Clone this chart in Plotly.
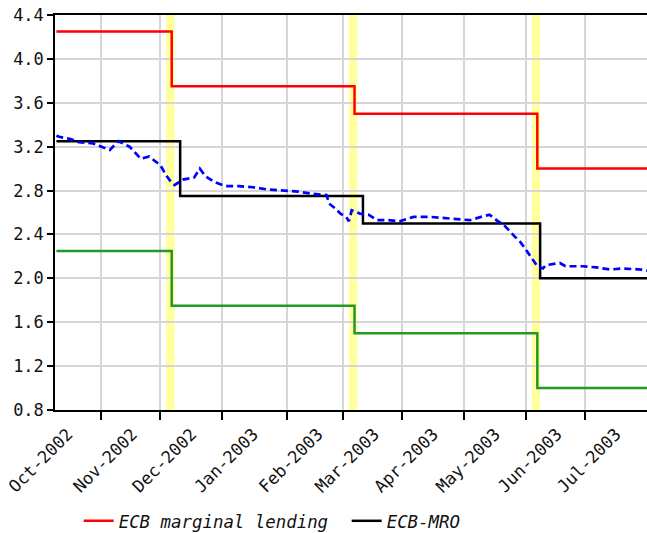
import pandas as pd
import plotly.graph_objects as go
from pandas.tseries.offsets import BDay

# ---------------- data ----------------
lending_dates = ["2002-10-10", "2002-12-06", "2003-03-07", "2003-06-06", "2003-07-31"]
lending_rate = [4.25, 3.75, 3.50, 3.00, 3.00]

deposit_dates = ["2002-10-10", "2002-12-06", "2003-03-07", "2003-06-06", "2003-07-31"]
deposit_rate = [2.25, 1.75, 1.50, 1.00, 1.00]

mro_dates = ["2002-10-10", "2002-12-11", "2003-03-12", "2003-06-09", "2003-07-31"]
mro_rate = [3.25, 2.75, 2.50, 2.00, 2.00]

market_dates = [
    "2002-10-10", "2002-10-11", "2002-10-17", "2002-10-22", "2002-10-29", "2002-11-01",
    "2002-11-06", "2002-11-11", "2002-11-15", "2002-11-21", "2002-11-26", "2002-12-02",
    "2002-12-04", "2002-12-06", "2002-12-09", "2002-12-12", "2002-12-18", "2002-12-20",
    "2002-12-24", "2002-12-27", "2003-01-02", "2003-01-09", "2003-01-16", "2003-01-23",
    "2003-01-31", "2003-02-07", "2003-02-14", "2003-02-21", "2003-02-24", "2003-02-26",
    "2003-02-28", "2003-03-04", "2003-03-05", "2003-03-06", "2003-03-11", "2003-03-14",
    "2003-03-19", "2003-03-25", "2003-03-31", "2003-04-07", "2003-04-15", "2003-04-22",
    "2003-04-29", "2003-05-05", "2003-05-09", "2003-05-14", "2003-05-19", "2003-05-21",
    "2003-05-27", "2003-05-29", "2003-06-02", "2003-06-05", "2003-06-06", "2003-06-10",
    "2003-06-11", "2003-06-18", "2003-06-20", "2003-06-30", "2003-07-07", "2003-07-14",
    "2003-07-18", "2003-07-29", "2003-07-31",
]
market_rate = [
    3.30, 3.29, 3.27, 3.24, 3.23, 3.20,
    3.17, 3.25, 3.20, 3.09, 3.11, 3.03,
    2.94, 2.87, 2.85, 2.90, 2.92, 3.00,
    2.93, 2.88, 2.84, 2.84, 2.83, 2.81,
    2.80, 2.79, 2.77, 2.76, 2.68, 2.64,
    2.59, 2.56, 2.52, 2.62, 2.59, 2.58,
    2.53, 2.53, 2.52, 2.56, 2.56, 2.55,
    2.54, 2.53, 2.56, 2.58, 2.52, 2.49,
    2.38, 2.33, 2.26, 2.15, 2.11, 2.09,
    2.12, 2.14, 2.11, 2.11, 2.10, 2.08,
    2.09, 2.08, 2.07,
]

meeting_start = ["2002-12-04", "2003-03-05", "2003-06-04"]
meeting_end = ["2002-12-07", "2003-03-08", "2003-06-07"]

month_starts = ["2002-10-01", "2002-11-01", "2002-12-01", "2003-01-01", "2003-02-01",
                "2003-03-01", "2003-04-01", "2003-05-01", "2003-06-01", "2003-07-01"]
month_labels = ["Oct-2002", "Nov-2002", "Dec-2002", "Jan-2003", "Feb-2003",
                "Mar-2003", "Apr-2003", "May-2003", "Jun-2003", "Jul-2003"]

x_range = ["2002-10-09 12:00", "2003-07-31"]
y_ticks = [0.8, 1.2, 1.6, 2.0, 2.4, 2.8, 3.2, 3.6, 4.0, 4.4]

# ---------------- figure ----------------
FONT = "DejaVu Sans Mono"
tick_pos = [pd.Timestamp(d) + BDay(0) for d in month_starts]
label_pos = [t + BDay(11) for t in tick_pos]
breaks = [dict(bounds=["sat", "mon"])]

fig = go.Figure()

for s, e in zip(meeting_start, meeting_end):
    fig.add_vrect(x0=s, x1=e, fillcolor="#ffff9e", opacity=1, line_width=0, layer="below")

fig.add_trace(go.Scatter(x=lending_dates, y=lending_rate, mode="lines", line_shape="hv",
                         line=dict(color="#ff0000", width=2.5), name="ECB marginal lending"))
fig.add_trace(go.Scatter(x=mro_dates, y=mro_rate, mode="lines", line_shape="hv",
                         line=dict(color="#000000", width=2.5), name="ECB-MRO"))
fig.add_trace(go.Scatter(x=deposit_dates, y=deposit_rate, mode="lines", line_shape="hv",
                         line=dict(color="#229922", width=2.5), name="ECB deposit",
                         showlegend=False))
fig.add_trace(go.Scatter(x=market_dates, y=market_rate, mode="lines",
                         line=dict(color="#0000ff", width=2.7, dash="7px,4px"),
                         name="EONIA", showlegend=False))
# invisible trace to activate overlay label axis
fig.add_trace(go.Scatter(x=[x_range[0]], y=[None], xaxis="x2", showlegend=False,
                         hoverinfo="skip"))

fig.update_layout(
    width=647, height=533,
    margin=dict(l=55, r=0, t=15, b=123, autoexpand=False),
    paper_bgcolor="white", plot_bgcolor="white",
    font=dict(family=FONT, size=17, color="#111111"),
    showlegend=True,
    legend=dict(orientation="h", x=0.04, xanchor="left", y=-0.281, yanchor="middle",
                font=dict(family=FONT, size=17.4, style="italic", color="#111111"),
                entrywidth=223, entrywidthmode="pixels", bgcolor="rgba(0,0,0,0)"),
    xaxis=dict(type="date", range=x_range, rangebreaks=breaks, automargin=False,
               tickmode="array", tickvals=tick_pos, showticklabels=False,
               ticks="outside", ticklen=8, tickcolor="black", tickwidth=1.5,
               showgrid=True, gridcolor="#d6d6d6", gridwidth=1.5,
               showline=True, linecolor="black", linewidth=1.5, mirror=True,
               zeroline=False),
    xaxis2=dict(type="date", overlaying="x", anchor="y", side="bottom", matches="x",
                range=x_range, rangebreaks=breaks, automargin=False,
                tickmode="array", tickvals=label_pos, ticktext=month_labels,
                tickangle=-45, ticks="", ticklen=8, ticklabelstandoff=10,
                ticklabeloverflow="allow",
                showgrid=False, showline=False,
                zeroline=False, tickfont=dict(family=FONT, size=17, color="#111111")),
    yaxis=dict(range=[0.8, 4.4], tickmode="array", tickvals=y_ticks, automargin=False,
               tickformat=".1f", ticks="outside", ticklen=6, tickcolor="black",
               ticklabeloverflow="allow",
               tickwidth=1.5, showgrid=True, gridcolor="#d6d6d6", gridwidth=1.5,
               showline=True, linecolor="black", linewidth=1.5, zeroline=False,
               tickfont=dict(family=FONT, size=17, color="#111111")),
)

# remove the page's default 8px body margin so the 647x533 figure fills the window
fig.write_html("out.html", config={"displayModeBar": False},
               post_script="document.body.style.margin='0';")
